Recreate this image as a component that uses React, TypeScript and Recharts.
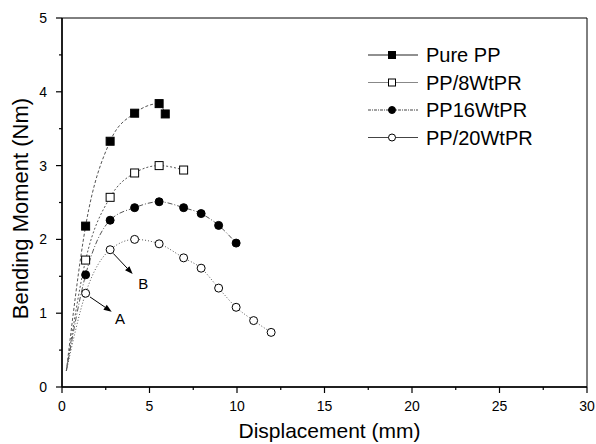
import { LineChart, Line, XAxis, YAxis, ReferenceLine, ReferenceDot, ReferenceArea } from "recharts";

// first point of each curve is where the fitted curve starts (no marker drawn)
const pureX = [0.25, 1.35, 2.75, 4.15, 5.55, 5.9];
const pureY = [0.22, 2.18, 3.33, 3.71, 3.84, 3.7];
const pp8X = [0.25, 1.35, 2.75, 4.15, 5.55, 6.95];
const pp8Y = [0.22, 1.72, 2.57, 2.9, 3.0, 2.94];
const pp16X = [0.25, 1.35, 2.75, 4.15, 5.55, 6.95, 7.95, 8.95, 9.95];
const pp16Y = [0.22, 1.52, 2.26, 2.43, 2.51, 2.43, 2.35, 2.19, 1.95];
const pp20X = [0.25, 1.35, 2.75, 4.15, 5.55, 6.95, 7.95, 8.95, 9.95, 10.95, 11.95];
const pp20Y = [0.22, 1.27, 1.86, 2.0, 1.94, 1.75, 1.61, 1.34, 1.08, 0.9, 0.74];

const xMajor = [0, 5, 10, 15, 20, 25, 30];
const xMinor = [2.5, 7.5, 12.5, 17.5, 22.5, 27.5];
const yMajor = [0, 1, 2, 3, 4, 5];
const yMinor = [0.5, 1.5, 2.5, 3.5, 4.5];

const arrowA = [{ x: 1.6, y: 1.22 }, { x: 2.84, y: 1.02 }];
const arrowB = [{ x: 2.93, y: 1.81 }, { x: 4.04, y: 1.53 }];
const labelA = { x: 3.31, y: 0.92, text: "A" };
const labelB = { x: 4.65, y: 1.4, text: "B" };

const zip = (xs: number[], ys: number[]) => xs.map((x, i) => ({ x, y: ys[i] }));

const series = [
  { name: "Pure PP", data: zip(pureX, pureY), marker: "sq", filled: true, dash: "3 2", legendDash: undefined, legendColor: "#222" },
  { name: "PP/8WtPR", data: zip(pp8X, pp8Y), marker: "sq", filled: false, dash: "2 2", legendDash: undefined, legendColor: "#888" },
  { name: "PP16WtPR", data: zip(pp16X, pp16Y), marker: "ci", filled: true, dash: "5 2 1 2", legendDash: "3 1 1 1", legendColor: "#444" },
  { name: "PP/20WtPR", data: zip(pp20X, pp20Y), marker: "ci", filled: false, dash: "1 2", legendDash: undefined, legendColor: "#444" },
];

const font = "'Liberation Sans', Arial, sans-serif";
const tickFont = { fontSize: 14, fontFamily: font, fill: "#000" };
const tickStroke = { stroke: "#000", strokeWidth: 1.2 };

function Marker({ cx, cy, kind, filled, size }: any) {
  const fill = filled ? "#000" : "#fff";
  if (kind === "sq")
    return <rect x={cx - size} y={cy - size} width={size * 2} height={size * 2} fill={fill} stroke="#000" strokeWidth={1} />;
  return <circle cx={cx} cy={cy} r={size} fill={fill} stroke="#000" strokeWidth={1} />;
}

const makeDot = (kind: string, filled: boolean) => (p: any) => {
  const { cx, cy, index } = p;
  if (index === 0) return <g key={`d-${kind}-${filled}-${index}`} />;
  return (
    <g key={`d-${kind}-${filled}-${index}`}>
      <Marker cx={cx} cy={cy} kind={kind} filled={filled} size={4} />
    </g>
  );
};

// minor tick marks: short stub just outside the frame
const xTickMark = (len: number) => (p: any) => {
  const x = p.x1;
  const yb = Math.max(p.y1, p.y2);
  return <line x1={x} x2={x} y1={yb} y2={yb + len} stroke="#000" strokeWidth={1.2} />;
};
const yTickMark = (len: number) => (p: any) => {
  const y = p.y1;
  const xl = Math.min(p.x1, p.x2);
  return <line x1={xl - len} x2={xl} y1={y} y2={y} stroke="#000" strokeWidth={1.2} />;
};

const Arrow = (p: any) => {
  const { x1, y1, x2, y2 } = p;
  const a = Math.atan2(y2 - y1, x2 - x1);
  const L = 8;
  const W = 3;
  const bx = x2 - L * Math.cos(a);
  const by = y2 - L * Math.sin(a);
  const px = -Math.sin(a) * W;
  const py = Math.cos(a) * W;
  return (
    <g>
      <line x1={x1} y1={y1} x2={bx} y2={by} stroke="#000" strokeWidth={1} />
      <polygon points={`${x2},${y2} ${bx + px},${by + py} ${bx - px},${by - py}`} fill="#000" />
    </g>
  );
};

const LegendBox = () => (
  <svg width={230} height={120} style={{ position: "absolute", left: 360, top: 38 }}>
    {series.map((s, i) => {
      const y = 17 + i * 27.5;
      return (
        <g key={s.name}>
          <line x1={8} x2={58} y1={y} y2={y} stroke={s.legendColor} strokeWidth={1.2} strokeDasharray={s.legendDash} />
          <Marker cx={32} cy={y} kind={s.marker} filled={s.filled} size={3.5} />
          <text x={66} y={y + 7} fontSize={20} fontFamily={font} fill="#000">
            {s.name}
          </text>
        </g>
      );
    })}
  </svg>
);

export default function App() {
  return (
    <div style={{ position: "absolute", left: 0, top: 0, width: 596, height: 444 }}>
      <LineChart width={596} height={444} margin={{ top: 18, right: 9, bottom: 0, left: 0 }}>
        <XAxis
          type="number"
          dataKey="x"
          domain={[0, 30]}
          ticks={xMajor}
          interval={0}
          height={57}
          tickSize={6}
          tickMargin={8}
          tickLine={tickStroke}
          tick={tickFont}
          stroke="#000"
          axisLine={{ stroke: "#000", strokeWidth: 1.5 }}
          label={(props: any) => {
            const vb = props.viewBox;
            return (
              <text x={vb.x + vb.width / 2 + 5} y={438} textAnchor="middle" fontSize={21} fontFamily={font} fill="#000">
                Displacement (mm)
              </text>
            );
          }}
        />
        <YAxis
          type="number"
          domain={[0, 5]}
          ticks={yMajor}
          interval={0}
          width={62}
          tickSize={6}
          tickMargin={9}
          tickLine={tickStroke}
          tick={tickFont}
          stroke="#000"
          axisLine={{ stroke: "#000", strokeWidth: 1.5 }}
          label={(props: any) => {
            const vb = props.viewBox;
            const cy = vb.y + vb.height / 2 + 6;
            return (
              <text x={20} y={cy} transform={`rotate(-90 20 ${cy})`} textAnchor="middle" dominantBaseline="central" fontSize={22} fontFamily={font} fill="#000">
                Bending Moment (Nm)
              </text>
            );
          }}
        />
        <ReferenceArea x1={0} x2={30} y1={0} y2={5} fill="none" fillOpacity={0} stroke="#000" strokeWidth={1} ifOverflow="visible" />
        {xMinor.map((v) => (
          <ReferenceLine key={`xm${v}`} x={v} ifOverflow="visible" shape={xTickMark(3)} />
        ))}
        {yMinor.map((v) => (
          <ReferenceLine key={`ym${v}`} y={v} ifOverflow="visible" shape={yTickMark(3)} />
        ))}
        {series.map((s) => (
          <Line
            key={s.name}
            data={s.data}
            dataKey="y"
            name={s.name}
            type="monotone"
            stroke="#555"
            strokeWidth={1}
            strokeDasharray={s.dash}
            dot={makeDot(s.marker, s.filled)}
            activeDot={false}
            isAnimationActive={false}
          />
        ))}
        <ReferenceLine segment={arrowA} shape={Arrow} />
        <ReferenceLine segment={arrowB} shape={Arrow} />
        {[labelA, labelB].map((l) => (
          <ReferenceDot
            key={l.text}
            x={l.x}
            y={l.y}
            r={0}
            fill="none"
            stroke="none"
            label={{ value: l.text, position: "center", fontSize: 15, fontFamily: font, fill: "#000" }}
          />
        ))}
      </LineChart>
      <LegendBox />
    </div>
  );
}
